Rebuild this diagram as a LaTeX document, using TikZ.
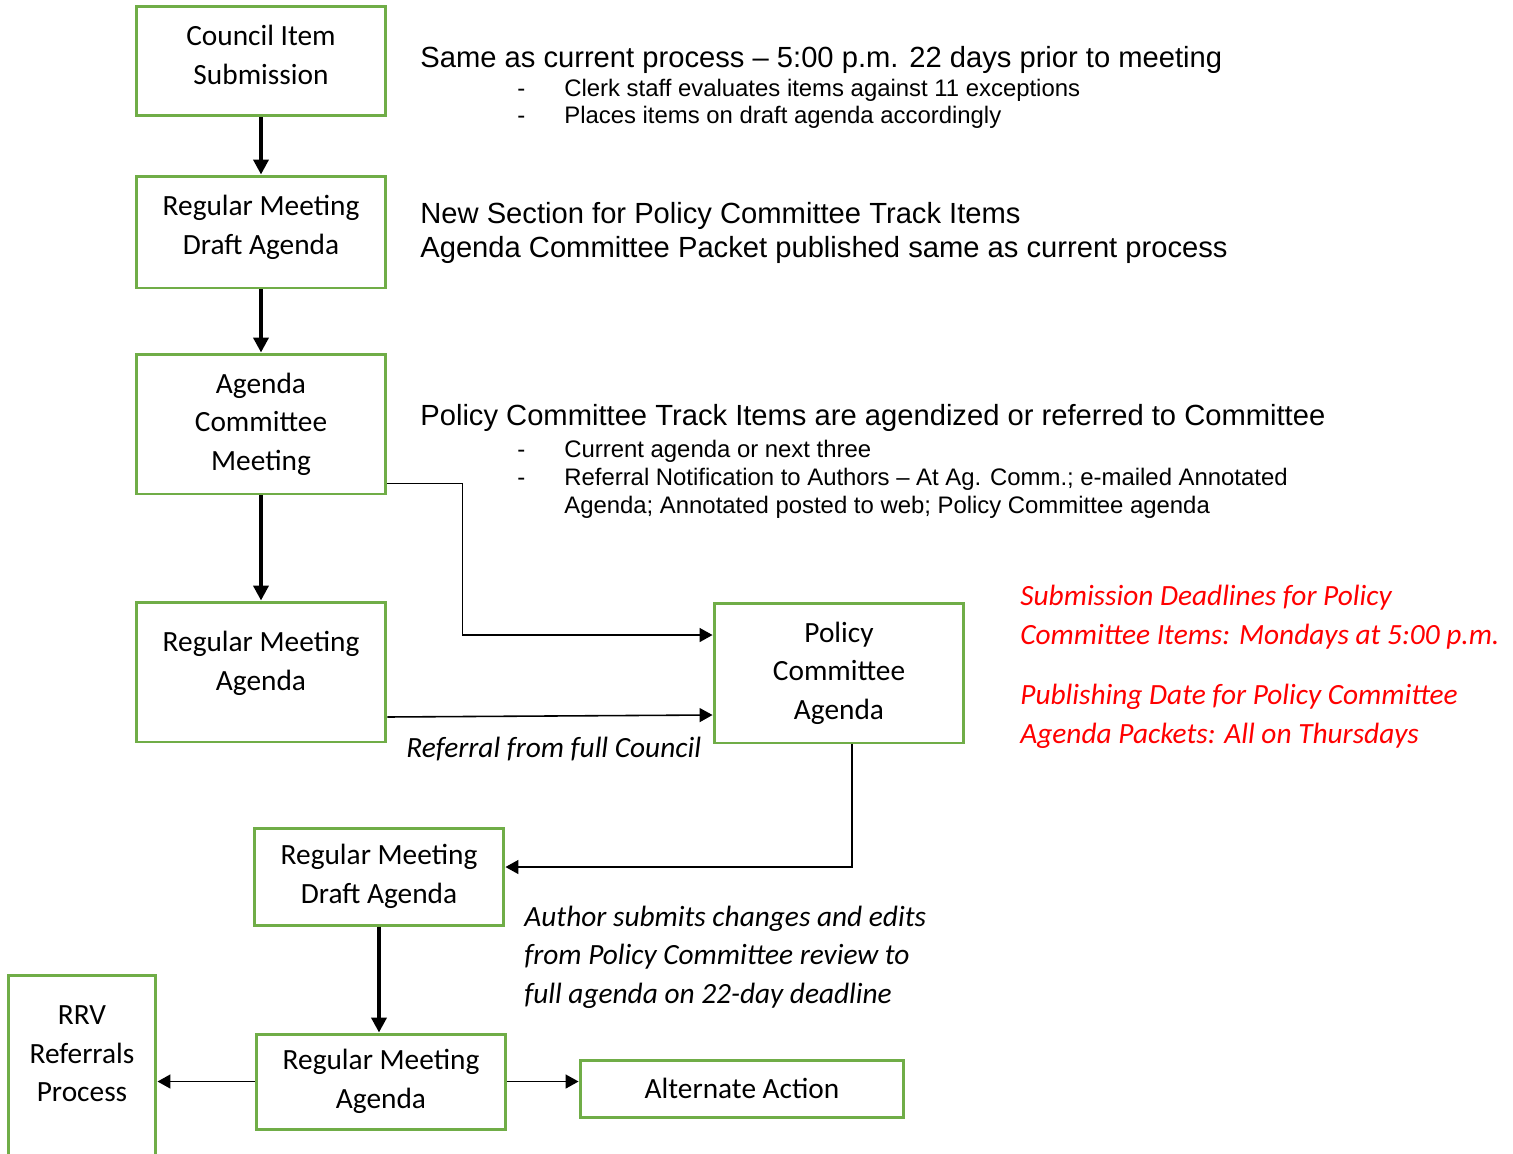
\documentclass[tikz,border=0pt]{standalone}
\usepackage{fontspec}
\setmainfont{Carlito}
\newfontfamily\arialfont{Liberation Sans}
\usepackage{tikz}
\usetikzlibrary{arrows.meta}
\definecolor{boxgreen}{RGB}{112,173,71}
\definecolor{notered}{RGB}{255,0,0}
\newcommand{\bxw}{5cm}
\newcommand{\boxfont}{\fontsize{16.7}{21.9}\selectfont}
\newcommand{\headfont}{\arialfont\fontsize{16.6}{19.5}\selectfont}
\newcommand{\listfont}{\arialfont\fontsize{13.6}{15.9}\selectfont}
\newcommand{\dashitem}[1]{\makebox[0.94cm][l]{-}#1}
\newcommand{\dashgap}{\hspace*{0.94cm}}

\begin{document}
\begin{tikzpicture}[x=0.02cm,y=-0.02cm,
    flowbox/.style={draw=boxgreen,line width=1.7pt,align=center,
      font=\boxfont,inner sep=0pt,minimum width=\bxw},
    headline/.style={anchor=base west,font=\headfont,inner sep=0pt},
    listline/.style={anchor=base west,font=\listfont,inner sep=0pt},
    noteline/.style={anchor=base west,font=\boxfont\itshape,inner sep=0pt,
      align=left},
    flowarrow/.style={-{Triangle[length=0.3cm,width=0.3cm]},
      line width=2.2pt},
    thinarrow/.style={-{Triangle[length=0.26cm,width=0.28cm]},
      line width=0.9pt}]
    \useasboundingbox (0,0) rectangle (1513,1153);

    \node[flowbox,minimum height=2.2cm,text depth=0.24cm] (submit)
      at (261,61) {Council Item\\Submission};
    \node[flowbox,minimum height=2.24cm,text depth=0.28cm] (draft)
      at (261,232) {Regular Meeting\\Draft Agenda};
    \node[flowbox,minimum height=2.8cm] (agcomm) at (261,424)
      {Agenda\\Committee\\Meeting};
    \node[flowbox,minimum height=2.8cm,text depth=0.44cm] (regular)
      at (261,672) {Regular Meeting\\Agenda};
    \node[flowbox,minimum height=2.8cm] (policy) at (839,673)
      {Policy\\Committee\\Agenda};
    \node[flowbox,minimum height=1.94cm] (draftb) at (379,876.5)
      {Regular Meeting\\Draft Agenda};
    \node[flowbox,minimum height=1.9cm] (regularb) at (381,1081.5)
      {Regular Meeting\\Agenda};
    \node[flowbox,minimum width=6.48cm,minimum height=1.14cm] (alt)
      at (742,1088.5) {Alternate Action};
    \node[flowbox,minimum width=2.96cm,minimum height=4cm,anchor=north]
      (rrv) at (82,974) {};
    \node[align=center,font=\boxfont] (rrvtext) at (82,1054)
      {RRV\\Referrals\\Process};

    \node[headline] (head1) at (420,67)
      {Same as current process – 5:00 p.m. 22 days prior to meeting};
    \node[listline] (list1a) at (517,96)
      {\dashitem{Clerk staff evaluates items against 11 exceptions}};
    \node[listline] (list1b) at (517,123)
      {\dashitem{Places items on draft agenda accordingly}};
    \node[headline] (head2) at (420,223)
      {New Section for Policy Committee Track Items};
    \node[headline] (head3) at (420,257)
      {Agenda Committee Packet published same as current process};
    \node[headline] (head4) at (420,425)
      {Policy Committee Track Items are agendized or referred to Committee};
    \node[listline] (list4a) at (517,457)
      {\dashitem{Current agenda or next three}};
    \node[listline] (list4b) at (517,485)
      {\dashitem{Referral Notification to Authors – At Ag. Comm.; e-mailed Annotated}};
    \node[listline] (list4c) at (517,513)
      {\dashgap Agenda; Annotated posted to web; Policy Committee agenda};

    \node[noteline,text=notered] (deadline) at (1020,644)
      {Submission Deadlines for Policy\\Committee Items: Mondays at 5:00 p.m.};
    \node[noteline,text=notered] (publish) at (1020,743)
      {Publishing Date for Policy Committee\\Agenda Packets: All on Thursdays};
    \node[noteline] (fullcouncil) at (406,757) {Referral from full Council};
    \node[noteline] (authornote) at (524,1003)
      {Author submits changes and edits\\from Policy Committee review to\\full agenda on 22-day deadline};

    \draw[flowarrow] (submit) -- (draft);
    \draw[flowarrow] (draft) -- (agcomm);
    \draw[flowarrow] (agcomm) -- (regular);
    \draw[thinarrow] ([yshift=0.24cm]agcomm.south east) -- ++(75,0)
      |- ([yshift=0.76cm]policy.west);
    \draw[thinarrow] ([yshift=-0.9cm]regular.east)
      -- ([yshift=-0.84cm]policy.west);
    \draw[thinarrow] ([xshift=0.26cm]policy.south)
      |- ([yshift=0.19cm]draftb.east);
    \draw[flowarrow] (draftb.south) -- (draftb.south |- regularb.north);
    \draw[thinarrow] (regularb.west) -- (rrv.east |- regularb.west);
    \draw[thinarrow] (regularb.east) -- (regularb.east -| alt.west);
  \end{tikzpicture}
\end{document}
